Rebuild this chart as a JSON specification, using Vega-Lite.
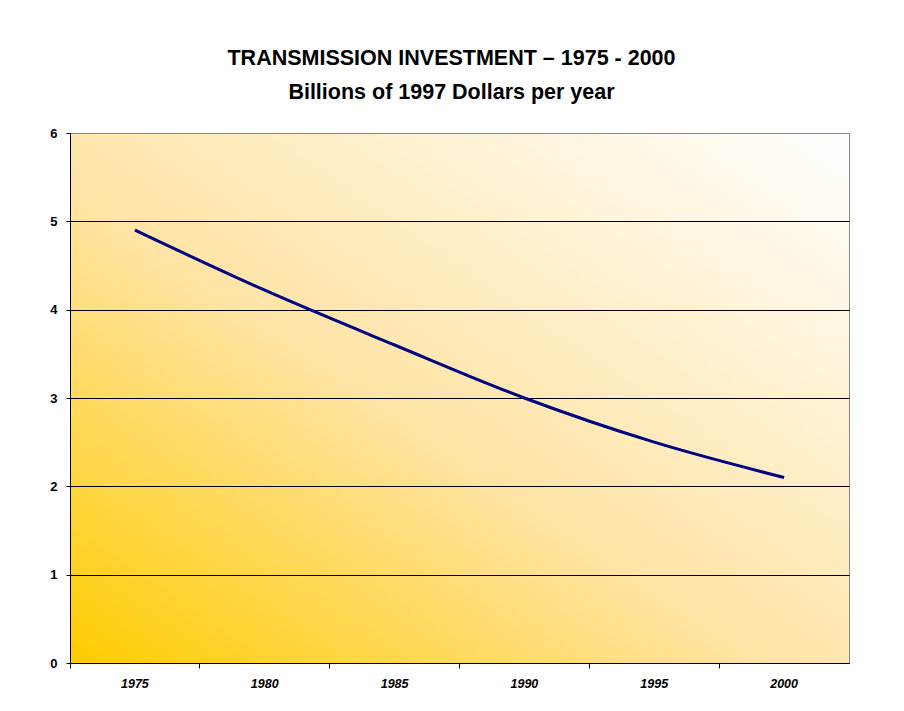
{
  "$schema": "https://vega.github.io/schema/vega-lite/v6.json",
  "width": 779,
  "height": 530,
  "autosize": {"type": "none"},
  "padding": {"left": 70, "top": 133, "right": 55, "bottom": 48},
  "background": "white",
  "title": {
    "text": ["TRANSMISSION INVESTMENT – 1975 - 2000", "Billions of 1997 Dollars per year"],
    "font": "Liberation Sans",
    "fontSize": 21.5,
    "fontWeight": "bold",
    "color": "black",
    "lineHeight": 34,
    "offset": 24,
    "anchor": "middle",
    "dx": -8
  },
  "data": {
    "values": [
      {"year": "1975", "value": 4.9},
      {"year": "1980", "value": 4.22},
      {"year": "1985", "value": 3.6},
      {"year": "1990", "value": 3.0},
      {"year": "1995", "value": 2.5},
      {"year": "2000", "value": 2.1}
    ]
  },
  "mark": {"type": "line", "color": "#000080", "strokeWidth": 3, "interpolate": "monotone"},
  "encoding": {
    "x": {
      "field": "year",
      "type": "ordinal",
      "bandPosition": 0.5,
      "scale": {"type": "band", "paddingInner": 0, "paddingOuter": 0},
      "axis": {
        "title": null,
        "labelAngle": 0,
        "labelFont": "Liberation Sans",
        "labelFontSize": 12.5,
        "labelFontWeight": "bold",
        "labelFontStyle": "italic",
        "labelColor": "black",
        "labelPadding": 9,
        "tickSize": 5,
        "tickColor": "black",
        "bandPosition": 0,
        "domainColor": "black",
        "grid": false
      }
    },
    "y": {
      "field": "value",
      "type": "quantitative",
      "scale": {"domain": [0, 6], "nice": false},
      "axis": {
        "title": null,
        "values": [0, 1, 2, 3, 4, 5, 6],
        "labelFont": "Liberation Sans",
        "labelFontSize": 13,
        "labelFontWeight": "bold",
        "labelColor": "black",
        "labelPadding": 9,
        "tickSize": 4,
        "tickColor": "black",
        "domainColor": "black",
        "grid": true,
        "gridColor": {"condition": {"test": "datum.value == 6", "value": "#888888"}, "value": "black"},
        "gridOpacity": 1
      }
    }
  },
  "config": {
    "view": {
      "stroke": "#888888",
      "strokeWidth": 1,
      "fill": {
        "gradient": "linear",
        "x1": 0, "y1": 1, "x2": 1, "y2": 0,
        "stops": [
          {"offset": 0, "color": "#FFCC00"},
          {"offset": 0.45, "color": "#FFE4A6"},
          {"offset": 1, "color": "#FFFFFF"}
        ]
      }
    }
  }
}
